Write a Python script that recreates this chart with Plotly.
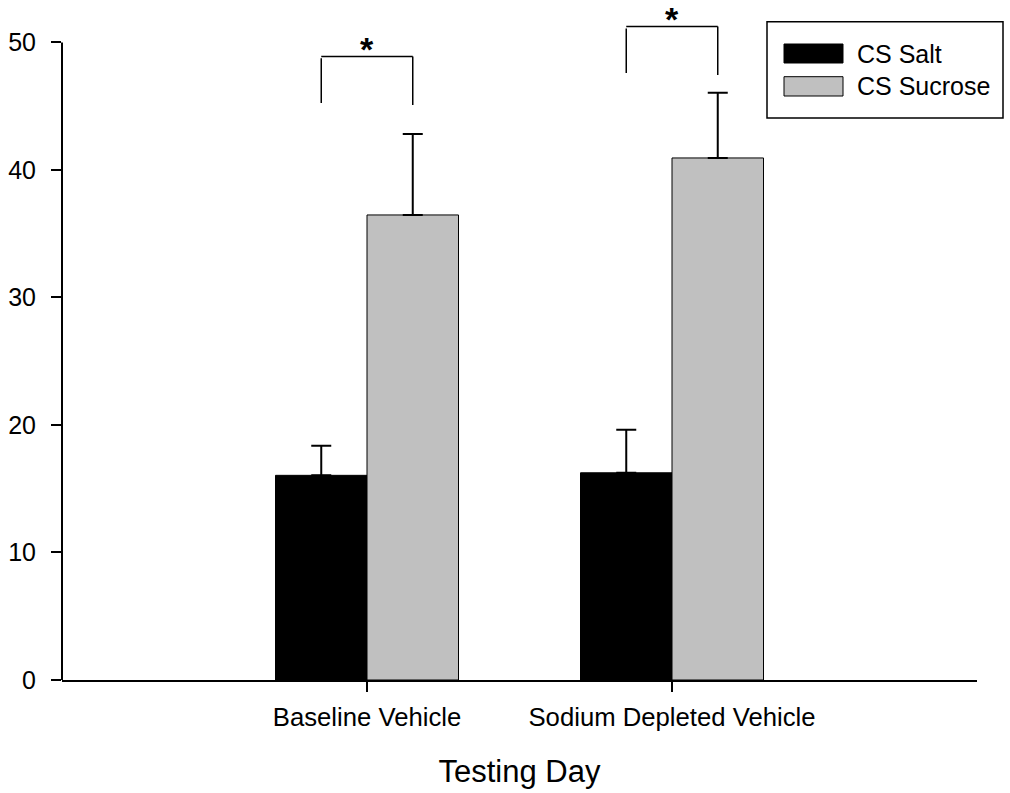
import plotly.graph_objects as go

# ---------------- data ----------------
categories = ["Baseline Vehicle", "Sodium Depleted Vehicle"]
cat_pos = [1, 2]
salt_mean = [16.05, 16.25]
salt_sem = [2.33, 3.37]
sucrose_mean = [36.47, 40.94]
sucrose_sem = [6.35, 5.12]

# significance brackets (one per category)
sig_left_x = [0.85, 1.85]
sig_right_x = [1.15, 2.15]
sig_top = [48.9, 51.25]
sig_left_bottom = [45.25, 47.6]
sig_right_bottom = [45.1, 47.45]
sig_label = ["*", "*"]

y_ticks = [0, 10, 20, 30, 40, 50]
series_names = ["CS Salt", "CS Sucrose"]
series_colors = ["#000000", "#C0C0C0"]

# ---------------- layout constants ----------------
W, H = 1010, 793
L, R, T, B = 62, 33, 8, 113
YMAX = 52.7
FONT = "Liberation Sans, Arial, sans-serif"
plot_w = W - L - R
plot_h = H - T - B


def px_to_paper(px, py):
    return (px - L) / plot_w, (H - B - py) / plot_h


fig = go.Figure()

fig.add_trace(go.Bar(
    x=cat_pos, y=salt_mean, width=0.3, offset=-0.3, name=series_names[0],
    marker=dict(color=series_colors[0], line=dict(color="black", width=1)),
    error_y=dict(type="data", array=salt_sem, arrayminus=[0] * len(salt_sem),
                 symmetric=False, color="black", thickness=2, width=10),
    showlegend=False,
))
fig.add_trace(go.Bar(
    x=cat_pos, y=sucrose_mean, width=0.3, offset=0.0, name=series_names[1],
    marker=dict(color=series_colors[1], line=dict(color="black", width=1)),
    error_y=dict(type="data", array=sucrose_sem, arrayminus=[0] * len(sucrose_sem),
                 symmetric=False, color="black", thickness=2, width=10),
    showlegend=False,
))

shapes = []
annotations = []

# y axis line from 0 to 50 only
shapes.append(dict(type="line", xref="paper", yref="paper", x0=0, x1=0,
                   y0=0, y1=50 / YMAX, line=dict(color="black", width=2)))

# significance brackets
for i in range(len(sig_top)):
    lc = dict(color="black", width=1.5)
    shapes.append(dict(type="line", xref="x", yref="y", x0=sig_left_x[i], x1=sig_right_x[i],
                       y0=sig_top[i], y1=sig_top[i], line=lc))
    shapes.append(dict(type="line", xref="x", yref="y", x0=sig_left_x[i], x1=sig_left_x[i],
                       y0=sig_left_bottom[i], y1=sig_top[i] - 0.15, line=lc))
    shapes.append(dict(type="line", xref="x", yref="y", x0=sig_right_x[i], x1=sig_right_x[i],
                       y0=sig_right_bottom[i], y1=sig_top[i], line=lc))
    annotations.append(dict(x=(sig_left_x[i] + sig_right_x[i]) / 2, y=sig_top[i],
                            xref="x", yref="y", text="<b>%s</b>" % sig_label[i],
                            showarrow=False, yanchor="bottom", yshift=-14,
                            font=dict(family=FONT, size=34, color="black")))

# manual legend
bx0, by0 = px_to_paper(767, 118)
bx1, by1 = px_to_paper(1003, 21.7)
shapes.append(dict(type="rect", xref="paper", yref="paper", x0=bx0, x1=bx1, y0=by0, y1=by1,
                   line=dict(color="black", width=1.5), fillcolor="white"))
legend_rows = [(44, 63, 54), (76.7, 96, 86.5)]
for i, (top, bot, mid) in enumerate(legend_rows):
    sx0, sy0 = px_to_paper(784, bot)
    sx1, sy1 = px_to_paper(843, top)
    shapes.append(dict(type="rect", xref="paper", yref="paper", x0=sx0, x1=sx1, y0=sy0, y1=sy1,
                       line=dict(color="black", width=1), fillcolor=series_colors[i]))
    tx, ty = px_to_paper(855, mid)
    annotations.append(dict(x=tx, y=ty, xref="paper", yref="paper", text=series_names[i],
                            showarrow=False, xanchor="left", yanchor="middle",
                            font=dict(family=FONT, size=25, color="black")))

fig.update_layout(
    width=W, height=H,
    margin=dict(l=L, r=R, t=T, b=B),
    paper_bgcolor="white", plot_bgcolor="white",
    font=dict(family=FONT, size=25, color="black"),
    shapes=shapes, annotations=annotations,
    showlegend=False,
    xaxis=dict(range=[0, 3], tickvals=cat_pos, ticktext=categories,
               showline=True, linecolor="black", linewidth=2,
               ticks="outside", ticklen=10, tickwidth=1.5, tickcolor="black",
               showgrid=False, zeroline=False, ticklabelstandoff=3,
               tickfont=dict(family=FONT, size=25.7, color="black"),
               title=dict(text="Testing Day", font=dict(family=FONT, size=31, color="black"),
                          standoff=30)),
    yaxis=dict(range=[0, YMAX], tickvals=y_ticks, showline=False,
               ticks="outside", ticklen=10, tickwidth=1.5, tickcolor="black",
               showgrid=False, zeroline=False, ticklabelstandoff=10,
               tickfont=dict(family=FONT, size=25, color="black")),
)

fig.write_html("out.html", config={"displayModeBar": False},
               post_script="document.body.style.margin='0';")
